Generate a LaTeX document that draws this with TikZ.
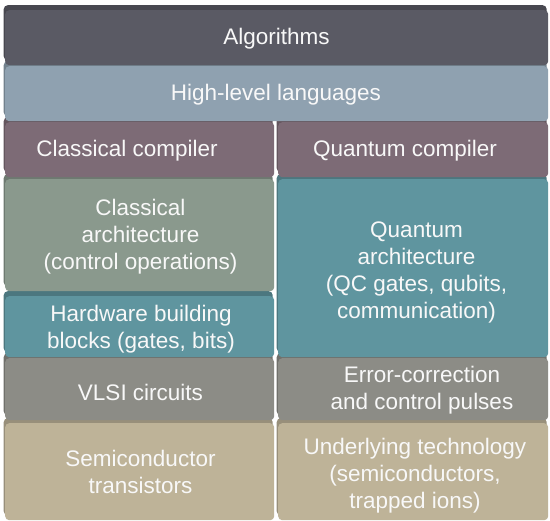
\documentclass[tikz,border=0pt]{standalone}
\usepackage{fontspec}
\setmainfont{Liberation Sans}
\definecolor{algc}{HTML}{5A5A64}
\definecolor{hllc}{HTML}{8FA1B0}
\definecolor{compc}{HTML}{7D6B76}
\definecolor{archc}{HTML}{8A998D}
\definecolor{tealc}{HTML}{5F959F}
\definecolor{vlsic}{HTML}{8C8C86}
\definecolor{tanc}{HTML}{BEB398}
\definecolor{txtc}{HTML}{F8F8F8}
\begin{document}
\begin{tikzpicture}[x=1pt,y=-1pt,
  tile/.style={rectangle, rounded corners=4pt, inner sep=0pt, anchor=north west,
    draw=none, fill=#1,
    preaction={fill=#1!80!black, transform canvas={shift={(-1.5pt,5pt)}}}},
  lbl/.style={text=txtc, align=center, inner sep=0pt,
    font=\fontsize{22.5}{27}\selectfont}
]
\useasboundingbox[fill=white] (0,0) rectangle (550,521);

% bottom row first, so upper tiles cover the shadows of lower ones
\node[tile=tanc, minimum width=269pt, minimum height=97pt] (sc) at (5,423) {};
\node[tile=tanc, minimum width=270pt, minimum height=97pt] (ut) at (278,423) {};
\node[tile=vlsic, minimum width=269pt, minimum height=62pt] (vlsi) at (5,358) {};
\node[tile=vlsic, minimum width=270pt, minimum height=62pt] (ec) at (278,358) {};
\node[tile=tealc, minimum width=269pt, minimum height=61pt] (hw) at (5,296) {};
\node[tile=tealc, minimum width=270pt, minimum height=178pt] (qa) at (278,179) {};
\node[tile=archc, minimum width=269pt, minimum height=112pt] (ca) at (5,179) {};
\node[tile=compc, minimum width=269pt, minimum height=55pt] (cc) at (5,122) {};
\node[tile=compc, minimum width=270pt, minimum height=55pt] (qc) at (278,122) {};
\node[tile=hllc, minimum width=543pt, minimum height=55pt] (hll) at (5,66) {};
\node[tile=algc, minimum width=543pt, minimum height=55pt] (alg) at (5,10) {};

% labels
\node[lbl] (algT) at (276.5,39) {Algorithms};
\node[lbl] (hllT) at (276,95) {High-level languages};
\node[lbl] (ccT) at (127,151) {Classical compiler};
\node[lbl] (qcT) at (405,151) {Quantum compiler};
\node[lbl] (caT) at (140.5,237) {Classical\\architecture\\(control operations)};
\node[lbl] (hwT) at (141,329) {Hardware building\\blocks (gates, bits)};
\node[lbl] (qaT) at (416.5,272) {Quantum\\architecture\\(QC gates, qubits,\\communication)};
\node[lbl] (vlsiT) at (140.5,392) {VLSI circuits};
\node[lbl] (ecT) at (422,390) {Error-correction\\and control pulses};
\node[lbl] (scT) at (140.5,472) {Semiconductor\\transistors};
\node[lbl] (utT) at (415,476) {Underlying technology\\(semiconductors,\\trapped ions)};
\end{tikzpicture}
\end{document}
